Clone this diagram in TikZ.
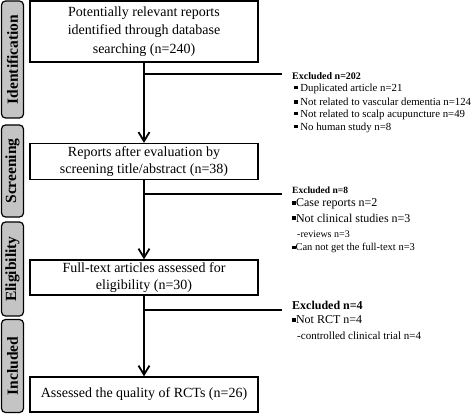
\documentclass[tikz,border=0pt]{standalone}
\usepackage{fontspec}
\setmainfont{Liberation Serif}
\usetikzlibrary{arrows.meta}
\definecolor{tabgray}{HTML}{C4C4C4}
\newcommand{\bul}{\rule[0.15em]{0.32em}{0.32em}}
\tikzset{
  box/.style={draw, line width=1.3pt, minimum width=228pt, align=center, inner sep=0pt, font=\fontsize{14}{18}\selectfont},
  tab/.style={draw, line width=1.2pt, fill=tabgray, rounded corners=4pt, minimum width=22pt, inner sep=0pt},
  tablabel/.style={rotate=90, font=\fontsize{15.5}{18}\bfseries\selectfont},
  flow/.style={line width=2pt, -{Straight Barb[length=9pt,width=11pt,line width=1.8pt]}},
  branch/.style={line width=1.3pt},
  extxt/.style={anchor=west, inner sep=0pt},
}
\begin{document}
\begin{tikzpicture}[x=1pt,y=-1pt]
\useasboundingbox (0,0) rectangle (473,414);
% side tabs
\node[tab, minimum height=117pt] (t1) at (12.5,59.5) {};
\node[tablabel] (t1l) at (t1.center) {Identification};
\node[tab, minimum height=92pt] (t2) at (12.5,171) {};
\node[tablabel] (t2l) at (t2.center) {Screening};
\node[tab, minimum height=94pt] (t3) at (12.5,269) {};
\node[tablabel] (t3l) at (t3.center) {Eligibility};
\node[tab, minimum height=93pt] (t4) at (12.5,366) {};
\node[tablabel] (t4l) at (t4.center) {Included};
% boxes
\node[box, minimum height=61pt, font=\fontsize{14}{18.5}\selectfont] (b1) at (144,31.5) {Potentially relevant reports\\identified through database\\searching (n=240)};
\node[box, minimum height=36pt, font=\fontsize{14}{17}\selectfont] (b2) at (144,161.5) {Reports after evaluation by\\screening title/abstract (n=38)};
\node[box, minimum height=35pt, font=\fontsize{14}{16.5}\selectfont] (b3) at (144,277.5) {Full-text articles assessed for\\eligibility (n=30)};
\node[box, minimum height=35pt] (b4) at (144,394.5) {Assessed the quality of RCTs (n=26)};
% flow arrows
\draw[flow] (b1) -- (b2);
\draw[flow] (b2) -- (b3);
\draw[flow] (b3) -- (b4);
% branches
\coordinate (j1) at (144,74);
\coordinate (e1) at (282,74);
\draw[branch] (j1) -- (e1);
\coordinate (j2) at (144,194);
\coordinate (e2) at (282,194);
\draw[branch] (j2) -- (e2);
\coordinate (j3) at (144,310);
\coordinate (e3) at (282,310);
\draw[branch] (j3) -- (e3);
% excluded group 1
\node[extxt, font=\fontsize{10}{12}\bfseries\selectfont] (x1h) at (292,76) {Excluded n=202};
\node[extxt, font=\fontsize{10.8}{12}\selectfont] (x1a) at (294,88.5) {\bul{} Duplicated article n=21};
\node[extxt, font=\fontsize{10.8}{12}\selectfont] (x1b) at (294,101.5) {\bul{} Not related to vascular dementia n=124};
\node[extxt, font=\fontsize{10.8}{12}\selectfont] (x1c) at (294,114.5) {\bul{} Not related to scalp acupuncture n=49};
\node[extxt, font=\fontsize{10.8}{12}\selectfont] (x1d) at (294,127.5) {\bul{} No human study n=8};
% excluded group 2
\node[extxt, font=\fontsize{9.5}{12}\bfseries\selectfont] (x2h) at (292,190) {Excluded n=8};
\node[extxt, font=\fontsize{12}{12}\selectfont] (x2a) at (292,204) {\bul Case reports n=2};
\node[extxt, font=\fontsize{12}{12}\selectfont] (x2b) at (292,218) {\bul Not clinical studies n=3};
\node[extxt, font=\fontsize{10}{12}\selectfont] (x2c) at (297,234) {-reviews n=3};
\node[extxt, font=\fontsize{10.5}{12}\selectfont] (x2d) at (292,248) {\bul Can not get the full-text n=3};
% excluded group 3
\node[extxt, font=\fontsize{12}{12}\bfseries\selectfont] (x3h) at (292,305) {Excluded n=4};
\node[extxt, font=\fontsize{12}{12}\selectfont] (x3a) at (292,320) {\bul Not RCT n=4};
\node[extxt, font=\fontsize{11}{12}\selectfont] (x3b) at (297,336) {-controlled clinical trial n=4};
\end{tikzpicture}
\end{document}
